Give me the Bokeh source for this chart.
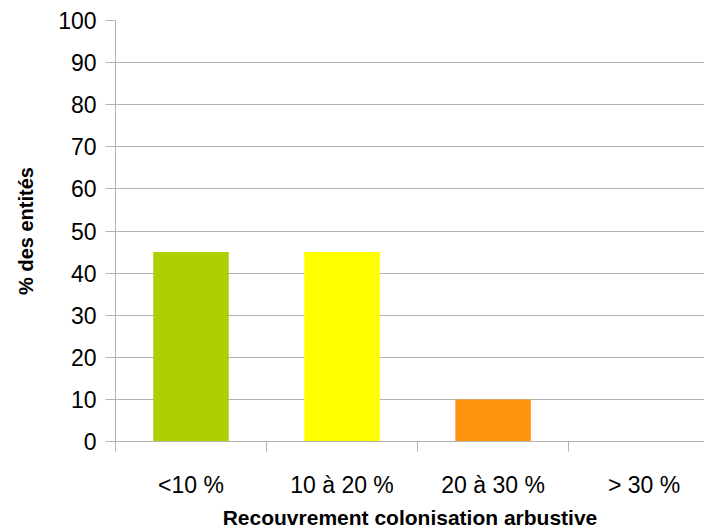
from bokeh.plotting import figure
from bokeh.models import Range1d, FixedTicker, ColumnDataSource
from bokeh.embed import file_html
from bokeh.resources import INLINE

categories = ["<10 %", "10 à 20 %", "20 à 30 %", "> 30 %"]
values = [45, 45, 10, 0]
colors = ["#aecf00", "#ffff00", "#ff950e", "#004586"]
y_ticks = [0, 10, 20, 30, 40, 50, 60, 70, 80, 90, 100]

centers = [i + 0.5 for i in range(len(categories))]
src = ColumnDataSource(dict(x=centers, top=values, color=colors))

p = figure(width=704, height=531, output_backend="svg", toolbar_location=None,
           x_range=Range1d(0, 3.9), y_range=Range1d(0, 100),
           min_border_left=115, min_border_top=20, min_border_bottom=90,
           min_border_right=0)
p.outline_line_color = None
p.background_fill_color = "white"
p.border_fill_color = "white"

p.vbar(x="x", top="top", width=0.5, fill_color="color", line_color=None, source=src)

grey = "#b3b3b3"
font = "Liberation Sans"

# y axis
p.yaxis.ticker = FixedTicker(ticks=y_ticks)
p.yaxis.axis_line_color = grey
p.yaxis.major_tick_line_color = grey
p.yaxis.major_tick_out = 10
p.yaxis.major_tick_in = 0
p.yaxis.minor_tick_line_color = None
p.yaxis.major_label_text_font = font
p.yaxis.major_label_text_font_size = "23px"
p.yaxis.major_label_text_color = "black"
p.yaxis.major_label_standoff = 9
p.yaxis.axis_label = "% des entités"
p.yaxis.axis_label_text_font = font
p.yaxis.axis_label_text_font_size = "20px"
p.yaxis.axis_label_text_font_style = "bold"
p.yaxis.axis_label_text_color = "black"
p.yaxis.axis_label_standoff = 18

# x axis
p.xaxis.ticker = FixedTicker(ticks=centers, minor_ticks=[0, 1, 2, 3, 4])
p.xaxis.major_label_overrides = {c: lab for c, lab in zip(centers, categories)}
p.xaxis.axis_line_color = grey
p.xaxis.major_tick_line_color = None
p.xaxis.major_tick_out = 0
p.xaxis.major_tick_in = 0
p.xaxis.minor_tick_line_color = grey
p.xaxis.minor_tick_out = 10
p.xaxis.minor_tick_in = 0
p.xaxis.major_label_text_font = font
p.xaxis.major_label_text_font_size = "23px"
p.xaxis.major_label_text_color = "black"
p.xaxis.major_label_standoff = 20
p.xaxis.axis_label = "Recouvrement colonisation arbustive"
p.xaxis.axis_label_text_font = font
p.xaxis.axis_label_text_font_size = "21px"
p.xaxis.axis_label_text_font_style = "bold"
p.xaxis.axis_label_text_color = "black"
p.xaxis.axis_label_standoff = 5

p.xgrid.grid_line_color = None
p.ygrid.ticker = FixedTicker(ticks=y_ticks)
p.ygrid.grid_line_color = grey
p.ygrid.grid_line_width = 1

open("out.html", "w").write(file_html(p, INLINE))
